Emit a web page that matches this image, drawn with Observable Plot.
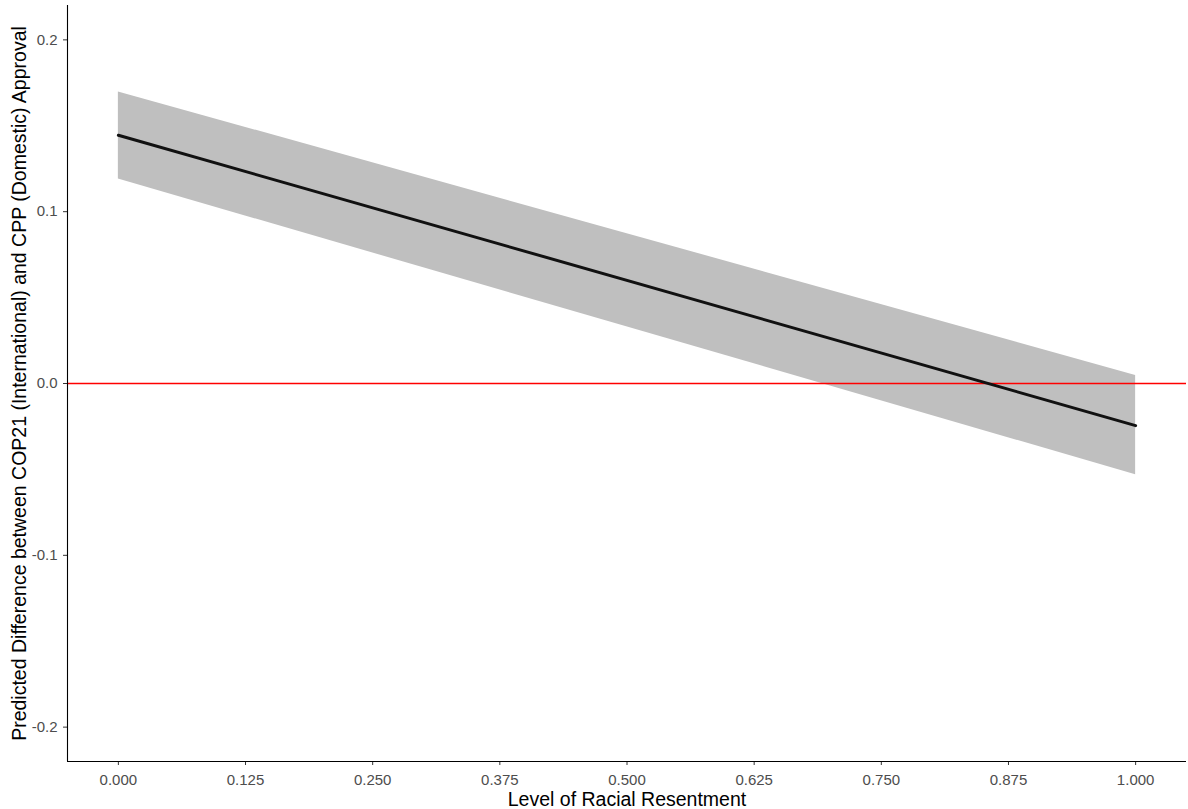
<!DOCTYPE html>
<html>
<head>
<meta charset="utf-8">
<script src="https://cdn.jsdelivr.net/npm/d3@7"></script>
<script src="https://cdn.jsdelivr.net/npm/@observablehq/plot@0.6"></script>
<style>
  html, body { margin: 0; padding: 0; background: #fff; }
  #chart svg { display: block; }
</style>
</head>
<body>
<div id="chart"></div>
<script>
// Data
const resentment = [0, 1];
const predicted = [0.1445, -0.0245];
const lower = [0.119, -0.0531];
const upper = [0.1697, 0.0047];
const xTicks = [0, 0.125, 0.25, 0.375, 0.5, 0.625, 0.75, 0.875, 1];
const yTicks = [-0.2, -0.1, 0, 0.1, 0.2];
const refLine = [0];

const rows = resentment.map((x, i) => ({x, y: predicted[i], lo: lower[i], hi: upper[i]}));

const font = "Liberation Sans, Arial, sans-serif";

const chart = Plot.plot({
  width: 1188,
  height: 809,
  marginLeft: 67,
  marginRight: 2,
  marginTop: 5,
  marginBottom: 48,
  style: {fontFamily: font, fontSize: "15px", color: "#4d4d4d", background: "#fff"},
  x: {domain: [-0.05, 1.05]},
  y: {domain: [-0.22, 0.22]},
  marks: [
    Plot.areaY(rows, {x: "x", y1: "lo", y2: "hi", fill: "#bfbfbf", fillOpacity: 1}),
    Plot.ruleY(refLine, {y: d => d, stroke: "red", strokeWidth: 1.3, strokeOpacity: 1}),
    Plot.line(rows, {x: "x", y: "y", stroke: "#111", strokeWidth: 3}),
    Plot.axisX({ticks: xTicks, tickFormat: d => d.toFixed(3), tickSize: 4, tickPadding: 9, stroke: "#333", fill: "#4d4d4d", fontSize: 15, label: null}),
    Plot.axisY({ticks: yTicks, tickFormat: d => d.toFixed(1), tickSize: 4, tickPadding: 6, stroke: "#333", fill: "#4d4d4d", fontSize: 15, label: null}),
    Plot.ruleX([-0.05], {stroke: "#000", strokeWidth: 1.1}),
    Plot.ruleY([-0.22], {stroke: "#000", strokeWidth: 1.1}),
    Plot.text(["Level of Racial Resentment"], {frameAnchor: "bottom", lineAnchor: "middle", dy: 38, fontSize: 19.5, fill: "#000"}),
    Plot.text(["Predicted Difference between COP21 (International) and CPP (Domestic) Approval"], {frameAnchor: "left", textAnchor: "middle", lineAnchor: "middle", dx: -48, rotate: -90, fontSize: 19.5, fill: "#000"})
  ]
});
chart.querySelectorAll("text").forEach(t => {
  if (/^-?\d\.\d+$/.test(t.textContent.trim())) {
    t.setAttribute("font-size", "15");
    t.style.setProperty("font-size", "15px", "important");
    t.style.setProperty("font-family", font, "important");
  }
});
document.getElementById("chart").appendChild(chart);
</script>
</body>
</html>
